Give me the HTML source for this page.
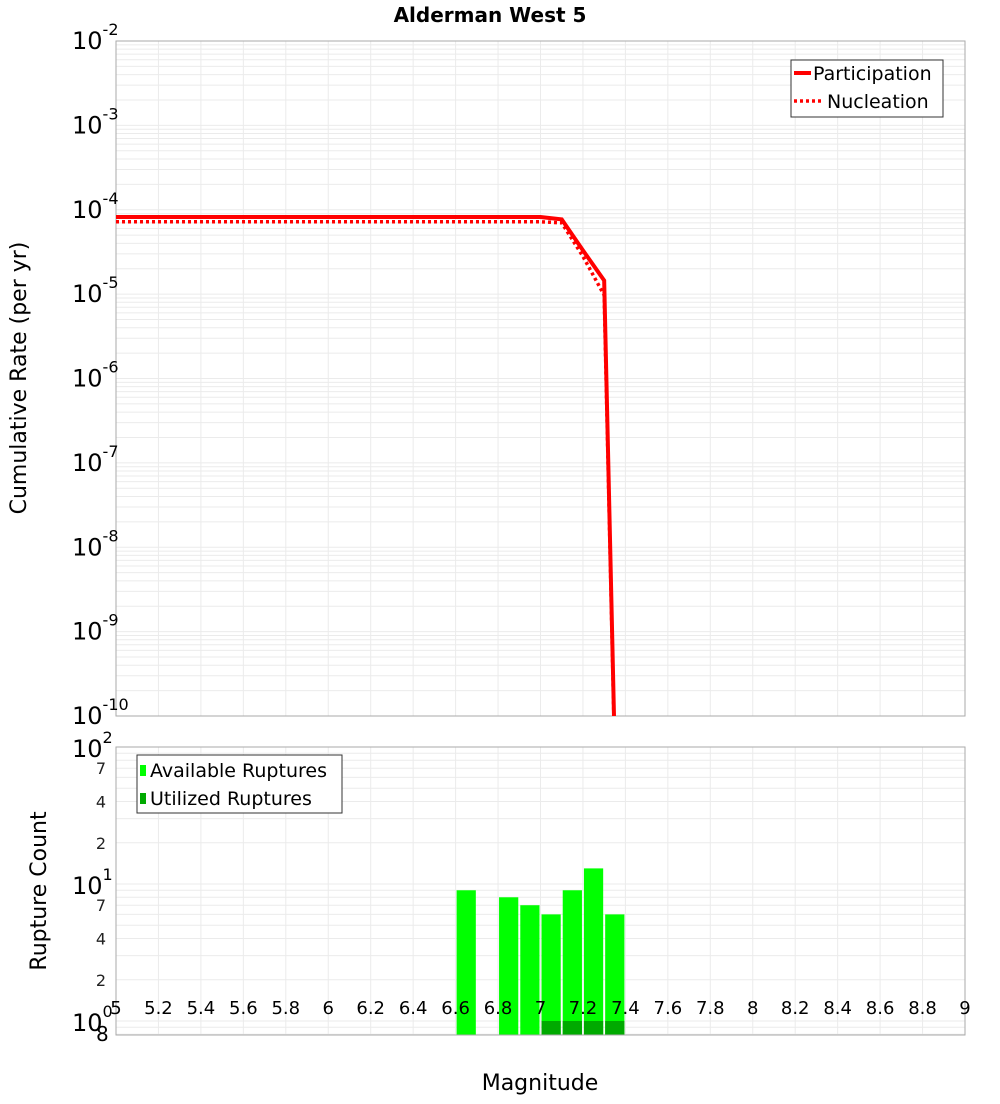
<!DOCTYPE html>
<html><head><meta charset="utf-8"><style>
body{margin:0;background:#fff;font-family:"DejaVu Sans","Liberation Sans",sans-serif;}
svg text{font-family:"DejaVu Sans","Liberation Sans",sans-serif;}
</style></head><body>
<svg id="chart" width="1000" height="1100" xmlns="http://www.w3.org/2000/svg">
<text x="490" y="22" text-anchor="middle" font-size="20" font-weight="bold">Alderman West 5</text>
<text transform="translate(26,378) rotate(-90)" text-anchor="middle" font-size="22">Cumulative Rate (per yr)</text>
<text transform="translate(46,891) rotate(-90)" text-anchor="middle" font-size="22">Rupture Count</text>
<text x="540" y="1090" text-anchor="middle" font-size="22">Magnitude</text>
<g id="topg"></g><g id="botg"></g>
</svg>
<script>
const mags = [5.0,5.1,5.2,5.3,5.4,5.5,5.6,5.7,5.8,5.9,6.0,6.1,6.2,6.3,6.4,6.5,6.6,6.7,6.8,6.9,7.0,7.1,7.2,7.3,7.4];
const participation = [8.2e-5,8.2e-5,8.2e-5,8.2e-5,8.2e-5,8.2e-5,8.2e-5,8.2e-5,8.2e-5,8.2e-5,8.2e-5,8.2e-5,8.2e-5,8.2e-5,8.2e-5,8.2e-5,8.2e-5,8.2e-5,8.2e-5,8.2e-5,8.2e-5,7.7e-5,3.3e-5,1.45e-5,1e-16];
const nucleation = [7.2e-5,7.2e-5,7.2e-5,7.2e-5,7.2e-5,7.2e-5,7.2e-5,7.2e-5,7.2e-5,7.2e-5,7.2e-5,7.2e-5,7.2e-5,7.2e-5,7.2e-5,7.2e-5,7.2e-5,7.2e-5,7.2e-5,7.2e-5,7.2e-5,7.0e-5,2.8e-5,9.7e-6,1e-16];
const binCenters = [6.65,6.85,6.95,7.05,7.15,7.25,7.35];
const available = [9,8,7,6,9,13,6];
const utilized = [0,0,0,1,1,1,1];
const xTicks = [5,5.2,5.4,5.6,5.8,6,6.2,6.4,6.6,6.8,7,7.2,7.4,7.6,7.8,8,8.2,8.4,8.6,8.8,9];
const xTickLabels = ["5","5.2","5.4","5.6","5.8","6","6.2","6.4","6.6","6.8","7","7.2","7.4","7.6","7.8","8","8.2","8.4","8.6","8.8","9"];
const topDecades = [-2,-3,-4,-5,-6,-7,-8,-9,-10];
const botDecades = [2,1,0];

const NS="http://www.w3.org/2000/svg";
function mk(tag,attrs,parent,txt){const e=document.createElementNS(NS,tag);for(const k in attrs)e.setAttribute(k,attrs[k]);if(txt!==undefined)e.textContent=txt;parent.appendChild(e);return e;}
const X0=116,X1=965;
const xs=m=>X0+(m-5)/4*(X1-X0);
const T0=41,T1=716;
const yT=v=>T0+(-2-Math.log10(v))/8*(T1-T0);
const B0=747,B1=1035,BD=137;
const yB=v=>B0+(2-Math.log10(v))*BD;
const topG=document.getElementById('topg'),botG=document.getElementById('botg');

for(let d=-10;d<-2;d++)for(let k=1;k<10;k++){const yy=yT(k*Math.pow(10,d));if(yy<T0||yy>T1)continue;
 const g=mk('line',{x1:X0,x2:X1,y1:yy,y2:yy,stroke:'#ebebeb','stroke-width':1},topG);
 
 }
xTicks.forEach(t=>{const g=mk('line',{x1:xs(t),x2:xs(t),y1:T0,y2:T1,stroke:'#ebebeb'},topG);
 
 });
const tf=mk('rect',{x:X0,y:T0,width:X1-X0,height:T1-T0,fill:'none',stroke:'#aaa'},topG);


topDecades.forEach(d=>{const yy=yT(Math.pow(10,d));const t=mk('text',{x:72,y:yy+8,'font-size':24},topG);
 
 
 t.textContent='10';mk('tspan',{dy:-14,'font-size':16},t,String(d));});
const clip=mk('clipPath',{id:'cp'},topG);mk('rect',{x:X0,y:T0,width:X1-X0,height:T1-T0},clip);
function line(vals,dash,name){const pts=mags.map((m,i)=>xs(m)+','+yT(vals[i])).join(' ');
 const p=mk('polyline',{points:pts,fill:'none',stroke:'#ff0000','stroke-width':dash?3.5:4,'stroke-dasharray':dash?'3,3':'none','clip-path':'url(#cp)'},topG);
 
 }
line(nucleation,true,'nucleation-line');
line(participation,false,'participation-line');
const lg=mk('g',{},topG);


mk('rect',{x:791,y:60,width:152,height:57,fill:'#fff',stroke:'#333'},lg);
mk('line',{x1:794,x2:811,y1:73,y2:73,stroke:'#f00','stroke-width':4},lg);
mk('text',{x:813,y:80,'font-size':19},lg,'Participation');
mk('line',{x1:794,x2:823,y1:101,y2:101,stroke:'#f00','stroke-width':3.5,'stroke-dasharray':'3,3'},lg);
mk('text',{x:827,y:108,'font-size':19},lg,'Nucleation');

[0.8,0.9,1,2,3,4,5,6,7,8,9,10,20,30,40,50,60,70,80,90].forEach(v=>{const yy=yB(v);if(yy<B0||yy>B1)return;
 const g=mk('line',{x1:X0,x2:X1,y1:yy,y2:yy,stroke:'#ebebeb'},botG);
 
 });
xTicks.forEach(t=>{const g=mk('line',{x1:xs(t),x2:xs(t),y1:B0,y2:B1,stroke:'#ebebeb'},botG);
 
 });
const bw=xs(5.1)-xs(5)-2;
binCenters.forEach((c,i)=>{const r=mk('rect',{x:xs(c-0.05)+1,y:yB(available[i]),width:bw,height:B1-yB(available[i]),fill:'#00ff00'},botG);
 
 
 if(utilized[i]>0){const u=mk('rect',{x:xs(c-0.05)+1,y:yB(utilized[i]),width:bw,height:B1-yB(utilized[i]),fill:'#00aa00'},botG);
 
 }});
const bf=mk('rect',{x:X0,y:B0,width:X1-X0,height:B1-B0,fill:'none',stroke:'#aaa'},botG);


botDecades.forEach(d=>{const yy=yB(Math.pow(10,d));const t=mk('text',{x:72,y:yy+10,'font-size':24},botG);
 
 
 t.textContent='10';mk('tspan',{dy:-14,'font-size':16},t,String(d));});
[[70,'7'],[40,'4'],[20,'2'],[7,'7'],[4,'4'],[2,'2']].forEach(([v,s])=>{const t=mk('text',{x:106,y:yB(v)+6,'font-size':16,'text-anchor':'end','fill':'#222'},botG,s);
 
 });
{const t=mk('text',{x:96,y:1041,'font-size':20},botG,'8');
 
 }
xTicks.forEach((t,i)=>{const e=mk('text',{x:xs(t),y:1014,'font-size':18,'text-anchor':'middle'},botG,xTickLabels[i]);
 
 });
const bl=mk('g',{},botG);


mk('rect',{x:137,y:755,width:205,height:58,fill:'#fff',stroke:'#333'},bl);
mk('rect',{x:140,y:765,width:6,height:11,fill:'#00ff00'},bl);
mk('text',{x:150,y:777,'font-size':19},bl,'Available Ruptures');
mk('rect',{x:140,y:793,width:6,height:11,fill:'#00aa00'},bl);
mk('text',{x:150,y:805,'font-size':19},bl,'Utilized Ruptures');
</script>
</body></html>
